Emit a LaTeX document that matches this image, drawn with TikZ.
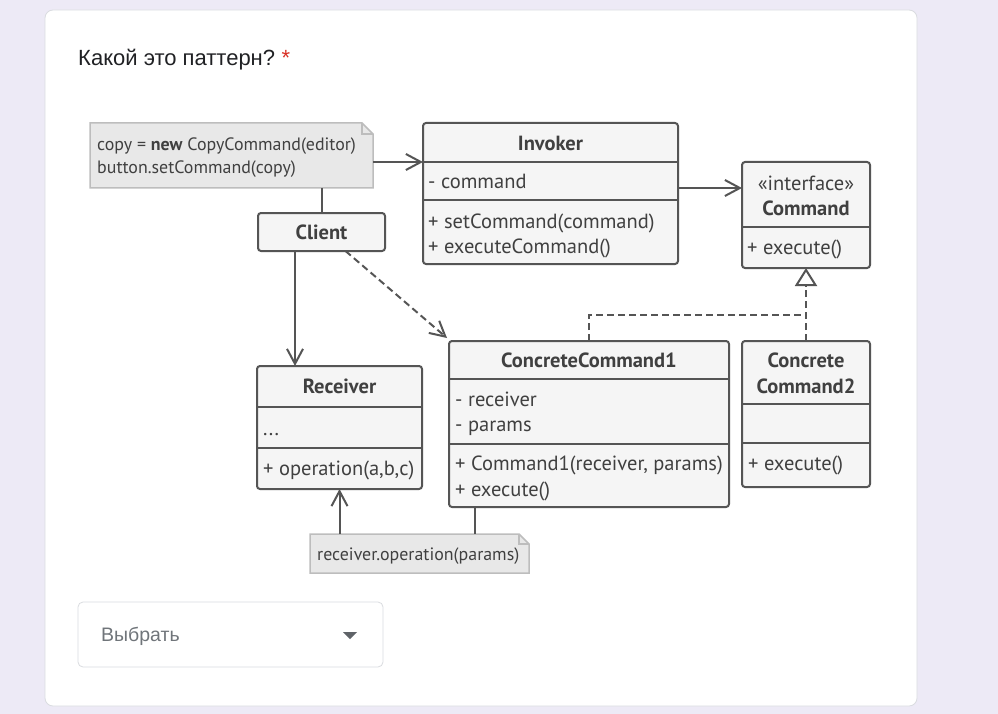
\documentclass[tikz,border=0pt]{standalone}
\usepackage{fontspec}
\setmainfont{Liberation Sans}
\newfontfamily\dg{PT Sans}
\usetikzlibrary{arrows.meta,calc}
\definecolor{bgl}{HTML}{EDEAF6}
\definecolor{cardb}{HTML}{DADCE0}
\definecolor{ln}{HTML}{555555}
\definecolor{tx}{HTML}{404040}
\definecolor{boxf}{HTML}{F5F5F5}
\definecolor{notef}{HTML}{E8E8E8}
\definecolor{noteb}{HTML}{BDBDBD}
\definecolor{ttl}{HTML}{202124}
\definecolor{req}{HTML}{D93025}
\definecolor{ddt}{HTML}{70757A}
\definecolor{ddi}{HTML}{5F6368}
\tikzset{
  cls/.style={draw=ln, fill=boxf, line width=2pt, rounded corners=3pt, rectangle, inner sep=0pt, outer sep=0pt, anchor=north west},
  div/.style={draw=ln, line width=2pt},
  ttxt/.style={text=tx, font=\dg\fontsize{20.5}{24}\selectfont, inner sep=0pt, anchor=base west},
  ntxt/.style={text=tx, font=\dg\fontsize{17.9}{21}\selectfont, inner sep=0pt, anchor=base west},
  htxt/.style={text=tx, font=\dg\bfseries\fontsize{20.5}{24}\selectfont, inner sep=0pt, anchor=base},
  conn/.style={draw=ln, line width=2pt},
  arr/.style={conn, -{Straight Barb[length=15pt,width=16pt,line width=2pt]}},
  dsh/.style={dash pattern=on 7pt off 4pt},
  notebox/.style={rectangle, inner sep=0pt, outer sep=0pt, anchor=north west},
}
\begin{document}
\begin{tikzpicture}[x=1pt,y=-1pt]
\useasboundingbox (0,0) rectangle (998,714);
\fill[bgl] (0,0) rectangle (998,714);
\draw[cardb, fill=white, line width=0.8pt, rounded corners=8pt] (45,10) rectangle (917,706);

% title
\node[anchor=base west, inner sep=0pt, text=ttl, font=\fontsize{22}{26}\selectfont] (title) at (78,66) {Какой это паттерн?};
\node[anchor=base west, inner sep=0pt, text=req, font=\fontsize{22}{26}\selectfont] (star) at ([xshift=6pt]title.base east) {*};

% note 1
\node[notebox, minimum width=283pt, minimum height=65pt] (n1) at (90,123) {};
\draw[noteb, fill=notef, line width=1.5pt] (n1.north west) -- ([xshift=-11pt]n1.north east) -- ([yshift=-11pt]n1.north east) -- (n1.south east) -- (n1.south west) -- cycle;
\draw[noteb, line width=1.2pt] ([xshift=-11pt]n1.north east) -- ([xshift=-11pt,yshift=-11pt]n1.north east) -- ([yshift=-11pt]n1.north east);
\node[ntxt] (n1a) at (97,151) {copy = \textbf{new} CopyCommand(editor)};
\node[ntxt] (n1b) at (97,174) {button.setCommand(copy)};

% Invoker
\node[cls, minimum width=255pt, minimum height=141pt] (inv) at (423,123) {};
\draw[div] (423,162) -- (678,162);
\draw[div] (423,200) -- (678,200);
\node[htxt] (invh) at (550.5,151) {Invoker};
\node[ttxt] (inva) at (428,189) {- command};
\node[ttxt] (invm1) at (428,228) {+ setCommand(command)};
\node[ttxt] (invm2) at (428,253) {+ executeCommand()};

% Command
\node[cls, minimum width=128pt, minimum height=106pt] (cmd) at (742,162) {};
\draw[div] (742,227) -- (870,227);
\node[anchor=base, inner sep=0pt, text=tx, font=\dg\fontsize{20.5}{24}\selectfont] (cmds) at (806,190) {«interface»};
\node[htxt] (cmdh) at (806,215) {Command};
\node[ttxt] (cmdm) at (747,254) {+ execute()};

% Client
\node[cls, minimum width=127pt, minimum height=38pt] (cli) at (258,213) {};
\node[htxt] (clih) at (321.5,240) {Client};

% Receiver
\node[cls, minimum width=165pt, minimum height=123pt] (rec) at (257,366) {};
\draw[div] (257,407) -- (422,407);
\draw[div] (257,448) -- (422,448);
\node[htxt] (rech) at (339.5,393) {Receiver};
\node[ttxt] (reca) at (263,435) {...};
\node[ttxt] (recm) at (263,475) {+ operation(a,b,c)};

% ConcreteCommand1
\node[cls, minimum width=280pt, minimum height=166pt] (cc1) at (449,341) {};
\draw[div] (449,379) -- (729,379);
\draw[div] (449,444) -- (729,444);
\node[htxt] (cc1h) at (589,367) {ConcreteCommand1};
\node[ttxt] (cc1a1) at (455,406) {- receiver};
\node[ttxt] (cc1a2) at (455,431) {- params};
\node[ttxt] (cc1m1) at (455,470) {+ Command1(receiver, params)};
\node[ttxt] (cc1m2) at (455,496) {+ execute()};

% ConcreteCommand2
\node[cls, minimum width=128pt, minimum height=146pt] (cc2) at (742,341) {};
\draw[div] (742,404) -- (870,404);
\draw[div] (742,443) -- (870,443);
\node[htxt] (cc2h1) at (806,367) {Concrete};
\node[htxt] (cc2h2) at (806,393) {Command2};
\node[ttxt] (cc2m) at (748,470) {+ execute()};

% note 2
\node[notebox, minimum width=219pt, minimum height=39pt] (n2) at (310,534) {};
\draw[noteb, fill=notef, line width=1.5pt] (n2.north west) -- ([xshift=-10pt]n2.north east) -- ([yshift=-10pt]n2.north east) -- (n2.south east) -- (n2.south west) -- cycle;
\draw[noteb, line width=1.2pt] ([xshift=-10pt]n2.north east) -- ([xshift=-10pt,yshift=-10pt]n2.north east) -- ([yshift=-10pt]n2.north east);
\node[ntxt] (n2a) at (317,560) {receiver.operation(params)};

% connectors
\draw[arr] ([yshift=-6.5pt]n1.east) -- ([yshift=-6.5pt]n1.east -| inv.west);
\draw[arr] ([yshift=5.5pt]inv.east) -- ([yshift=5.5pt]inv.east -| cmd.west);
\draw[conn] (cli.north |- n1.south) -- (cli.north);
\draw[arr] ([xshift=-26.5pt]cli.south) -- ([xshift=-26.5pt]cli.south |- rec.north);
\draw[arr, dsh] ([xshift=24pt]cli.south) -- ([xshift=-2pt,yshift=3pt]cc1.north west);
\coordinate (j) at (806,315);
\draw[conn, dsh, -{Triangle[open, length=18pt, width=22pt, line width=2pt, fill=white]}] (cc2.north) -- (cmd.south);
\draw[conn, dsh] (cc1.north) |- (j);
\draw[conn] ([xshift=-114pt]cc1.south) -- ([xshift=-114pt]cc1.south |- n2.north);
\draw[arr] (n2.north -| rec.south) -- (rec.south);

% dropdown
\draw[cardb, line width=0.8pt, rounded corners=5pt] (78,602) rectangle (383,667);
\node[anchor=base west, inner sep=0pt, text=ddt, font=\fontsize{19.5}{23}\selectfont] (dd) at (101,641) {Выбрать};
\fill[ddi] (343,632) -- (357,632) -- (350,639) -- cycle;
\end{tikzpicture}
\end{document}
